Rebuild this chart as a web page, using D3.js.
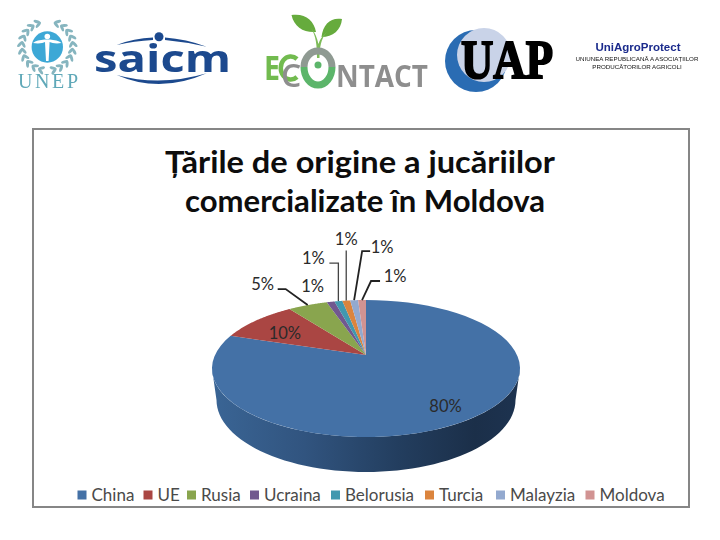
<!DOCTYPE html>
<html><head><meta charset="utf-8">
<script src="https://cdn.jsdelivr.net/npm/d3@7/dist/d3.min.js"></script>
<style>html,body{margin:0;padding:0;background:#fff}svg{display:block}</style>
</head><body><svg id="c" width="720" height="540" viewBox="0 0 720 540"></svg>
<script>
// ---- data ----
const categories = ["China","UE","Rusia","Ucraina","Belorusia","Turcia","Malayzia","Moldova"];
const shares = [80,10,5,1,1,1,1,1];
const titleLines = ["Țările de origine a jucăriilor","comercializate în Moldova"];
const palette = ["#4471a6","#aa4643","#89a54e","#71588f","#4198af","#db843d","#93a9cf","#d19392"];

// ---- layout ----
const FONT = "Lato, 'Open Sans', sans-serif";
const svg = d3.select("#c");
const defs = svg.append("defs");
defs.append("filter").attr("id","soft").append("feGaussianBlur").attr("stdDeviation",0.4);
const P = {cx:366, cy:355, ax:151, ay:-4.1, k:-0.197};
// perspective view of the pie disc; a = clockwise from the top, r = 0..1
function project(a, r=1){
  const u = r*Math.sin(a), v = -r*Math.cos(a), w = 1+P.k*v;
  return [P.cx+P.ax*u/w, (P.ay*v+P.cy)/w];
}
const arcPts = (a0,a1,n=60)=>d3.range(n+1).map(i=>project(a0+(a1-a0)*i/n));
const line = d3.line();

// frame
svg.append("rect").attr("x",33).attr("y",129).attr("width",656).attr("height",378)
  .attr("fill","#fff").attr("stroke","#868686").attr("stroke-width",2);

// title
const titleWidths = [390,360];
const titleCentres = [360,365];
svg.append("g").selectAll("text").data(titleLines).join("text")
  .attr("x",(d,i)=>titleCentres[i]).attr("y",(d,i)=>173+i*38.5).attr("text-anchor","middle")
  .attr("textLength",(d,i)=>titleWidths[i]).attr("lengthAdjust","spacingAndGlyphs")
  .attr("font-family",FONT).attr("font-weight",700).attr("font-size",30).attr("fill","#0d0d0d")
  .text(d=>d);

// pie
const pie = d3.pie().sort(null).value(d=>d)(shares);
const rad = Math.PI/180;

// side wall
const sideGrad = defs.append("linearGradient").attr("id","side").attr("gradientUnits","userSpaceOnUse")
  .attr("x1",212).attr("x2",521).attr("y1",0).attr("y2",0);
[[0,"#3a6595"],[0.3,"#31547f"],[0.6,"#233e5f"],[0.85,"#1b2f49"],[1,"#1d3350"]].forEach(s=>
  sideGrad.append("stop").attr("offset",s[0]).attr("stop-color",s[1]));
const lower = d3.range(61).map(i=>{const t=Math.PI*(1-i/60);return [366+149.5*Math.cos(t),400+72*Math.sin(t)];});
const front = arcPts(101.4*rad,258.6*rad);
svg.append("path").attr("d",line([project(258.6*rad),...lower,project(101.4*rad),...front])+"Z").attr("fill","url(#side)");

// top faces
svg.append("g").selectAll("path").data(pie).join("path")
  .attr("d",d=>line([project(0,0),...arcPts(d.startAngle,d.endAngle)])+"Z")
  .attr("fill",(d,i)=>palette[i]);

// value labels: offset from the slice's rim midpoint, leader elbows relative to the same point
const labelLayout = [
  {rim:0.55, dx:26,  dy:19},
  {rim:0.55, dx:-18, dy:-2},
  {rim:1, dx:-45, dy:-21, leader:[[-22,-16],[-30,-16]]},
  {rim:1, dx:-18, dy:-16},
  {rim:1, dx:-25, dy:-43, leader:[[0,-38],[-9,-38]]},
  {rim:1, dx:0,   dy:-62, leader:[[0,-50]]},
  {rim:1, dx:28,  dy:-53, leader:[[8,-49],[16,-49]]},
  {rim:1, dx:33,  dy:-24, leader:[[9,-19],[18,-19]]}
];
const gl = svg.append("g");
pie.forEach((d,i)=>{
  const L = labelLayout[i], mid=(d.startAngle+d.endAngle)/2, [ax,ay]=project(mid,L.rim);
  if(L.leader){
    gl.append("path").attr("d",line([[ax,ay],...L.leader.map(p=>[ax+p[0],ay+p[1]])]))
      .attr("fill","none").attr("stroke",i==4||i==5?"#444":"#222").attr("stroke-width",i==4||i==5?1.3:1.8);
  }
  gl.append("text").attr("x",ax+L.dx).attr("y",ay+L.dy+6).attr("text-anchor","middle")
    .attr("font-family",FONT).attr("font-size",16.5).attr("fill","#2a2a2a").text(d.value+"%");
});

// legend
const legendX = [77.5,143.5,187,250,331,425,496,585.5];
const lg = svg.append("g").selectAll("g").data(categories).join("g")
  .attr("transform",(d,i)=>`translate(${legendX[i]},495)`);
lg.append("rect").attr("y",-4.5).attr("width",9).attr("height",9).attr("fill",(d,i)=>palette[i]);
lg.append("text").attr("x",14).attr("y",5.5).attr("font-family",FONT).attr("font-size",17)
  .attr("fill","#4a4a4a").text(d=>d);

// ---- logos (decorative) ----
const logos = svg.append("g").attr("filter","url(#soft)");
// UNEP
const unep = logos.append("g");
[-1,1].forEach(side=>{
  d3.range(10).forEach(i=>{
    const t=(-68+i*16)*rad;
    [24,27.5].forEach((R,j)=>{
      const x=47.3+side*R*Math.cos(t), y=46+R*0.95*Math.sin(t);
      unep.append("ellipse").attr("cx",x).attr("cy",y).attr("rx",3.6).attr("ry",1.5)
        .attr("transform",`rotate(${side*(t/rad+(j?50:120))} ${x} ${y})`).attr("fill","#86b5bf");
    });
  });
});
unep.append("circle").attr("cx",47.3).attr("cy",47).attr("r",15.7).attr("fill","#3ea8d6");
unep.append("path").attr("d","M33 43 C39 44 43 43 45 42 L46 61 L48.6 61 L49.6 42 C52 43 56 44 61.5 43 C59 40.5 54 40 50 39.5 L44.6 39.5 C40 40 35.5 40.5 33 43Z").attr("fill","#fff");
unep.append("circle").attr("cx",47.3).attr("cy",36.5).attr("r",2.8).attr("fill","#fff");
unep.append("text").attr("x",18).attr("y",88).attr("textLength",60).attr("lengthAdjust","spacing")
  .attr("font-family","'Liberation Serif',serif").attr("font-size",20).attr("fill","#5fa8b8").text("UNEP");
// SAICM
const sa = logos.append("g");
sa.append("text").attr("x",94).attr("y",71.5).attr("textLength",137).attr("lengthAdjust","spacingAndGlyphs")
  .attr("font-family","'Open Sans',sans-serif").attr("font-weight",700).attr("font-size",37).attr("fill","#1c4a8e").text("saicm");
sa.append("circle").attr("cx",159).attr("cy",36.7).attr("r",4.5).attr("fill","#1c4a8e");
sa.append("path").attr("d","M116.7 45 Q134 38 153 37.5 L153 40 Q134 41 116.7 45Z M165 37.5 Q186 39 206.7 46.7 Q186 42 165 40Z M116.7 75 Q160 94 206.7 73.3 Q160 87 116.7 75Z").attr("fill","#1c4a8e");
// EContact
const ec = logos.append("g");
ec.append("path").attr("d","M291.5 15 C305 13 314 20 316 32 C304 33 294 27 291.5 15Z M342 19 C331 17 323 24 321.5 37 C333 37 341 30 342 19Z").attr("fill","#66ab3d");
ec.append("path").attr("d","M311 28 C316 36 317 45 317 58 L319.5 58 C319.5 48 321 38 327 32 C322 36 319.5 40 318.5 44 C317 38 315 32 311 28Z").attr("fill","#7dbb58");
ec.append("path").attr("d","M304 67 A14 16 0 0 1 332 67").attr("fill","none").attr("stroke","#8f9a92").attr("stroke-width",7);
ec.append("path").attr("d","M304 67 A14 18 0 0 0 332 67").attr("fill","none").attr("stroke","#5cb56a").attr("stroke-width",7);
ec.append("circle").attr("cx",318).attr("cy",65).attr("r",3.5).attr("fill","#5cb56a");
ec.append("text").attr("x",264).attr("y",80).attr("textLength",16).attr("lengthAdjust","spacingAndGlyphs")
  .attr("font-family","'Open Sans',sans-serif").attr("font-weight",700).attr("font-size",34).attr("fill","#72bb50").text("E");
ec.append("path").attr("d","M297 59 A10 11.5 0 1 0 297 77").attr("fill","none").attr("stroke","#72bb50").attr("stroke-width",4.5);
ec.append("text").attr("x",281).attr("y",86.5).attr("font-family","'Open Sans',sans-serif").attr("font-weight",600).attr("font-size",32).attr("fill","#8e8e8e").text("C");
ec.append("text").attr("x",336).attr("y",86.7).attr("textLength",92).attr("lengthAdjust","spacingAndGlyphs")
  .attr("font-family","'Open Sans',sans-serif").attr("font-weight",700).attr("font-size",30).attr("fill","#8e8e8e").text("NTACT");
// UAP
const ua = logos.append("g");
ua.append("circle").attr("cx",476).attr("cy",61).attr("r",31).attr("fill","#2a6cb3");
ua.append("circle").attr("cx",484).attr("cy",55).attr("r",27).attr("fill","#c9d3e8");
ua.append("text").attr("x",461).attr("y",77.5).attr("textLength",92).attr("lengthAdjust","spacingAndGlyphs")
  .attr("font-family","'Liberation Serif',serif").attr("font-weight",700).attr("font-size",54)
  .attr("stroke","#000").attr("stroke-width",2).attr("fill","#000").text("UAP");
// UniAgroProtect
const un = logos.append("g").attr("text-anchor","middle").attr("font-family","'Liberation Sans',sans-serif");
un.append("text").attr("x",638).attr("y",51).attr("font-size",11.5).attr("font-weight",700).attr("fill","#1a2a8c").text("UniAgroProtect");
un.append("text").attr("x",637).attr("y",61).attr("font-size",6.2).attr("fill","#111").text("UNIUNEA REPUBLICANĂ A ASOCIAȚIILOR");
un.append("text").attr("x",637).attr("y",69).attr("font-size",6.2).attr("fill","#111").text("PRODUCĂTORILOR AGRICOLI");
</script></body></html>
